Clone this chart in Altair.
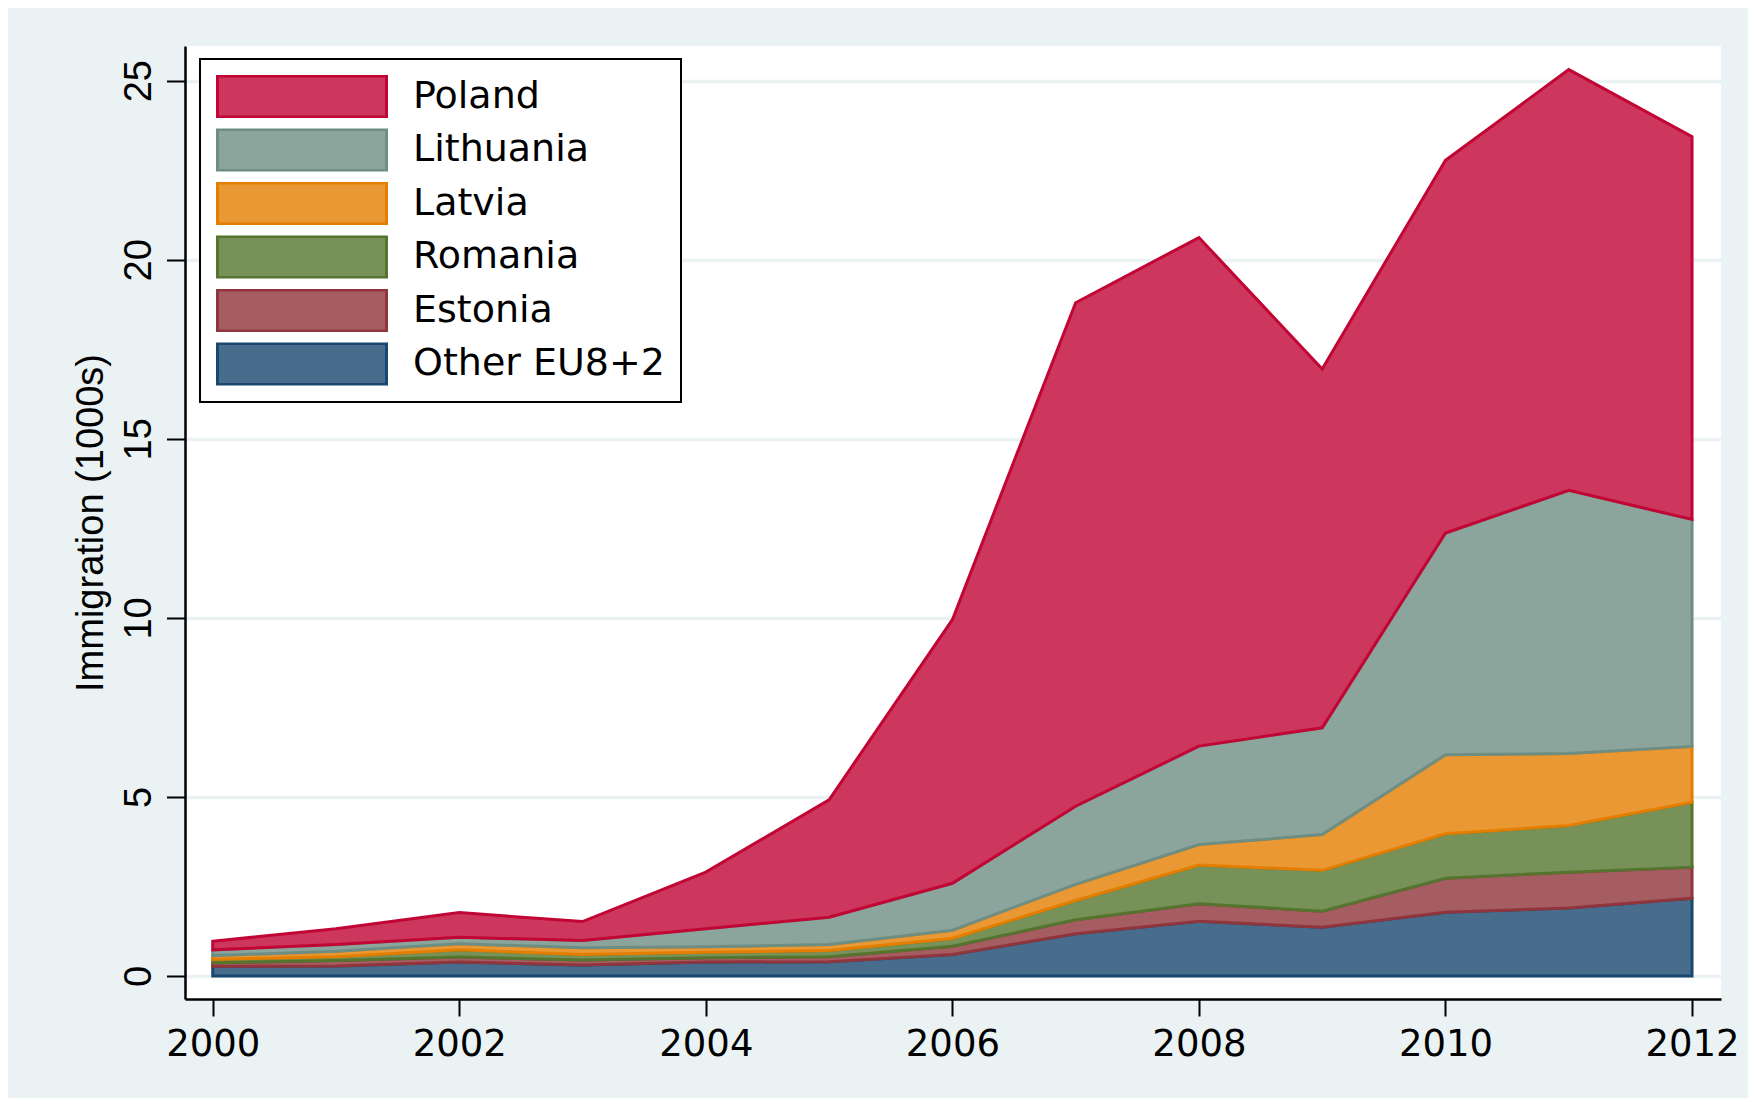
import altair as alt
import pandas as pd

years = list(range(2000, 2013))

# stacked from the bottom up
stack_names = ["Other EU8+2", "Estonia", "Romania", "Latvia", "Lithuania", "Poland"]
other_eu = [0.27, 0.28, 0.39, 0.31, 0.39, 0.40, 0.60, 1.18, 1.53, 1.36, 1.78, 1.90, 2.17]
estonia = [0.10, 0.15, 0.14, 0.14, 0.12, 0.14, 0.23, 0.39, 0.49, 0.45, 0.95, 1.00, 0.87]
romania = [0.09, 0.11, 0.20, 0.15, 0.15, 0.17, 0.22, 0.54, 1.08, 1.14, 1.24, 1.30, 1.81]
latvia = [0.11, 0.15, 0.17, 0.19, 0.16, 0.17, 0.23, 0.45, 0.57, 1.00, 2.21, 2.01, 1.56]
lithuania = [0.16, 0.19, 0.18, 0.20, 0.50, 0.76, 1.31, 2.18, 2.75, 2.98, 6.19, 7.35, 6.34]
poland = [0.24, 0.44, 0.69, 0.53, 1.58, 3.28, 7.36, 14.06, 14.20, 10.02, 10.41, 11.75, 10.69]
series = [other_eu, estonia, romania, latvia, lithuania, poland]

legend_order = ["Poland", "Lithuania", "Latvia", "Romania", "Estonia", "Other EU8+2"]
fill_colors = ["#CD375D", "#8BA49C", "#E99833", "#779159", "#A65D62", "#486C8C"]
line_colors = ["#C10534", "#6E8E84", "#E37E00", "#55752F", "#90353B", "#1A476F"]

x_ticks = [2000, 2002, 2004, 2006, 2008, 2010, 2012]
y_ticks = [0, 5, 10, 15, 20, 25]

rows = []
for i, (name, vals) in enumerate(zip(stack_names, series)):
    for yr, v in zip(years, vals):
        rows.append({"year": yr, "country": name, "value": v, "stack": i})
df = pd.DataFrame(rows)

FONT = "Liberation Sans"
WIDE_FONT = "DejaVu Sans"
BG = "#EAF2F3"

leg = alt.Legend(
    title=None,
    orient="none",
    legendX=15,
    legendY=13,
    direction="vertical",
    symbolType="M-1,-0.2426H1V0.2426H-1Z",
    symbolSize=28561,
    symbolStrokeWidth=3,
    symbolOpacity=1,
    clipHeight=43,
    rowPadding=10.5,
    labelFont=WIDE_FONT,
    labelFontSize=38,
    labelColor="black",
    labelOffset=25,
    labelLimit=600,
    fillColor="white",
    strokeColor="black",
    padding=16,
)

chart = (
    alt.Chart(df)
    .mark_area(strokeWidth=3, opacity=1, fillOpacity=1)
    .encode(
        x=alt.X(
            "year:Q",
            scale=alt.Scale(domain=[1999.775, 2012.235], nice=False, zero=False),
            axis=alt.Axis(
                values=x_ticks,
                format="d",
                title=None,
                grid=False,
                tickSize=17,
                labelFont=WIDE_FONT,
                labelFontSize=37,
                labelBaseline="top",
                labelPadding=10,
                labelFlush=False,
                labelOverlap=False,
            ),
        ),
        y=alt.Y(
            "value:Q",
            stack="zero",
            scale=alt.Scale(domain=[-0.642, 25.969], nice=False, zero=False),
            axis=alt.Axis(
                values=y_ticks,
                title="Immigration (1000s)",
                titleX=-83,
                titleY=476.5,
                titleAngle=270,
                titleAlign="center",
                titleBaseline="alphabetic",
                grid=True,
                gridColor=BG,
                gridWidth=3.5,
                tickSize=18.5,
                labelAngle=270,
                labelAlign="center",
                labelBaseline="alphabetic",
                labelPadding=16.5,
                labelFlush=False,
                labelOverlap=False,
            ),
        ),
        color=alt.Color("country:N", scale=alt.Scale(domain=legend_order, range=fill_colors), legend=leg),
        stroke=alt.Stroke("country:N", scale=alt.Scale(domain=legend_order, range=line_colors), legend=leg),
        order=alt.Order("stack:Q", sort="ascending"),
    )
    .properties(
        width=1536,
        height=953,
        padding={"left": 177, "top": 38, "right": 27, "bottom": 99},
        autosize=alt.AutoSizeParams(type="none"),
        background=BG,
    )
    .configure_view(fill="white", strokeWidth=0)
    .configure_axis(
        domainColor="black",
        domainWidth=2.5,
        tickColor="black",
        tickWidth=2,
        labelFont=FONT,
        labelFontSize=38,
        labelColor="black",
        titleFont=FONT,
        titleFontSize=38,
        titleFontWeight="normal",
        titleColor="black",
    )
    .configure_legend(strokeWidth=2)
)

chart.save("out.html", embed_options={"renderer": "svg", "actions": False})
